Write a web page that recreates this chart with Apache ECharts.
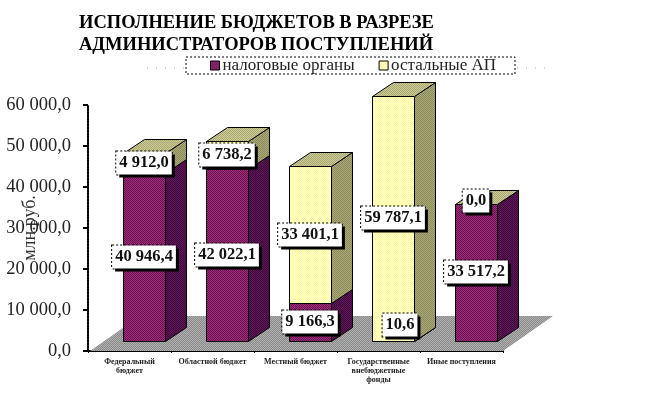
<!DOCTYPE html>
<html><head><meta charset="utf-8">
<style>html,body{margin:0;padding:0;background:#fff}#c{width:646px;height:394px}</style>
<script src="https://cdn.jsdelivr.net/npm/echarts@6/dist/echarts.min.js"></script>
</head><body><div id="c"></div>
<script>
const titleText = 'ИСПОЛНЕНИЕ БЮДЖЕТОВ В РАЗРЕЗЕ\nАДМИНИСТРАТОРОВ ПОСТУПЛЕНИЙ';
const categories = ['Федеральный\nбюджет','Областной бюджет','Местный бюджет','Государственные\nвнебюджетные\nфонды','Иные поступления'];
const taxNames = 'налоговые органы';
const otherNames = 'остальные АП';
const taxValues = [40946.4, 42022.1, 9166.3, 10.6, 33517.2];
const otherValues = [4912.0, 6738.2, 33401.1, 59787.1, 0.0];
const yTicks = {min:0, max:60000, step:10000};
const axisTitle = 'млн.руб.';

function dither(a,b){
  const c=document.createElement('canvas');c.width=2;c.height=2;
  const x=c.getContext('2d');x.fillStyle=a;x.fillRect(0,0,2,2);
  x.fillStyle=b;x.fillRect(0,0,1,1);x.fillRect(1,1,1,1);
  return {image:c,repeat:'repeat'};
}
const P={
  purple:dither('#a0306e','#6a0f5e'), purpleSide:dither('#66125c','#380a38'), purpleTop:dither('#a0306e','#6a0f5e'),
  yellow:dither('#ffffcc','#fffb9c'), yellowSide:dither('#a8a878','#8c8c5a'), yellowTop:dither('#cccc99','#a8a870'),
  floor:dither('#8a8a8a','#b0b0b0')
};
const fmt=v=>{const s=v.toFixed(1).split('.');return s[0].replace(/\B(?=(\d{3})+$)/g,' ')+','+s[1];};
const DX=21,DY=14,BX=14.5,BY=10,BW=0.506;

function segment(front,side,top,drawTop){
  return function(params,api){
    const i=api.value(0),lo=api.value(1),hi=api.value(2);
    const a=api.coord([i,lo]),b=api.coord([i,hi]);
    const w=api.size([1,0])[0]*BW;
    const x0=Math.round(a[0]+BX-w/2)+.5,x1=x0+Math.round(w);
    const y0=Math.round(a[1]-BY)+.5,y1=Math.round(b[1]-BY)+.5;
    const st=f=>({fill:f,stroke:'#000',lineWidth:1});
    const kids=[
      {type:'polygon',shape:{points:[[x1,y0],[x1+DX,y0-DY],[x1+DX,y1-DY],[x1,y1]]},style:st(side)},
      {type:'rect',shape:{x:x0,y:y1,width:x1-x0,height:y0-y1},style:st(front)}
    ];
    if(drawTop)kids.push({type:'polygon',shape:{points:[[x0,y1],[x0+DX,y1-DY],[x1+DX,y1-DY],[x1,y1]]},style:st(top)});
    return {type:'group',children:kids};
  };
}
const taxRows=taxValues.map((v,i)=>[i,0,v]);
const otherRows=otherValues.map((v,i)=>[i,taxValues[i],taxValues[i]+v]);
const labelRows=[];
taxValues.forEach((v,i)=>labelRows.push([i,v/2,v]));
otherValues.forEach((v,i)=>labelRows.push([i,taxValues[i]+v/2,v]));

const chart=echarts.init(document.getElementById('c'),null,{renderer:'canvas'});
chart.setOption({
  animation:false,
  title:{text:titleText,left:79,top:12,padding:0,textStyle:{fontFamily:'Liberation Serif',fontWeight:'bold',fontSize:18.5,lineHeight:22,color:'#000'}},
  legend:{left:186,top:57,padding:[0,19,0,24],itemGap:24,itemWidth:9,itemHeight:9,itemStyle:{borderColor:'#000',borderWidth:1},
    backgroundColor:'#fff',borderColor:'#000',borderWidth:1,borderType:[2,2],
    textStyle:{fontFamily:'Liberation Serif',fontSize:17,color:'#222',lineHeight:14,padding:[0,0,0,-2]},
    data:[{name:taxNames,icon:'rect',itemStyle:{color:P.purple}},{name:otherNames,icon:'rect',itemStyle:{color:P.yellow}}]},
  grid:{left:88,top:105,width:415,height:246,outerBoundsMode:'none',containLabel:false},
  xAxis:{type:'category',data:categories,boundaryGap:true,
    axisLine:{lineStyle:{color:'#000',width:2,type:[2,1]}},
    axisTick:{show:true,length:2,lineStyle:{color:'#000',width:1}},
    axisLabel:{interval:0,margin:6,hideOverlap:false,fontFamily:'Liberation Serif',fontWeight:'bold',fontSize:8,lineHeight:9,color:'#222'}},
  yAxis:{type:'value',min:yTicks.min,max:yTicks.max,interval:yTicks.step,
    name:axisTitle,nameLocation:'middle',nameGap:49,nameRotate:90,nameMoveOverlap:false,
    nameTextStyle:{fontFamily:'Liberation Serif',fontSize:18,color:'#333'},
    axisLine:{show:true,lineStyle:{color:'#000',width:2,type:[2,1]}},
    axisTick:{show:true,length:5,lineStyle:{color:'#000',width:2}},
    splitLine:{show:false},
    axisLabel:{margin:17,formatter:fmt,fontFamily:'Liberation Serif',fontSize:18.5,color:'#222'}},
  graphic:[
    {type:'line',shape:{x1:147,y1:68,x2:186,y2:68},style:{stroke:'#aaa',lineWidth:1,lineDash:[1,8]}},
    {type:'line',shape:{x1:517,y1:68,x2:550,y2:68},style:{stroke:'#aaa',lineWidth:1,lineDash:[1,8]}}
  ],
  series:[
    {type:'custom',silent:true,z:1,coordinateSystem:'cartesian2d',data:[[0,0]],clip:false,
      renderItem:(p,api)=>{const g=p.coordSys,yb=g.y+g.height;
        return {type:'polygon',shape:{points:[[g.x+2,yb],[g.x+g.width,yb],[g.x+g.width+50,yb-35],[g.x+52,yb-35]]},style:{fill:P.floor}};}},
    {type:'custom',name:taxNames,z:3,silent:true,clip:false,encode:{x:0,y:2},data:taxRows,itemStyle:{color:P.purple},
      renderItem:segment(P.purple,P.purpleSide,P.purpleTop,false)},
    {type:'custom',name:otherNames,z:4,silent:true,clip:false,encode:{x:0,y:2},data:otherRows,itemStyle:{color:P.yellow},
      renderItem:segment(P.yellow,P.yellowSide,P.yellowTop,true)},
    {type:'custom',z:6,silent:true,clip:false,encode:{x:0,y:1},data:labelRows,
      renderItem:(p,api)=>{
        const r=labelRows[p.dataIndex],c=api.coord([r[0],r[1]]);
        const tiny=r[2]<100;
        const dx=(tiny&&r[2]>0)?7:0, dy=tiny?(r[2]>0?-16:-3):0;
        const X=Math.round(c[0]+BX+dx),Y=Math.round(c[1]-BY+dy);
        const base={text:fmt(r[2]),align:'center',verticalAlign:'middle',fontFamily:'Liberation Serif',fontWeight:'bold',fontSize:16.5,padding:[3,3,3,3]};
        return {type:'group',children:[
          {type:'text',x:X+3,y:Y+3,style:Object.assign({},base,{fill:'#000',backgroundColor:'#000'})},
          {type:'text',x:X,y:Y,style:Object.assign({},base,{fill:'#111',backgroundColor:'#fff',borderColor:'#000',borderWidth:1,borderDash:[2,2]})}
        ]};
      }}
  ]
});
</script></body></html>
